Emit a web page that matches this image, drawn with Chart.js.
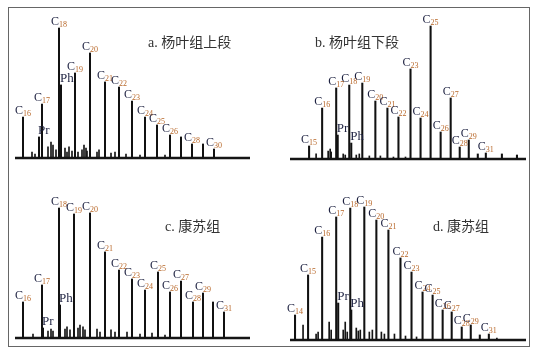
<!DOCTYPE html>
<html><head><meta charset="utf-8">
<script src="https://cdn.jsdelivr.net/npm/chart.js@4.4.1/dist/chart.umd.min.js"></script>
<style>
html,body{margin:0;padding:0;background:#fff;width:536px;height:357px;overflow:hidden;}
#frame{position:absolute;left:8px;top:7px;width:520px;height:338px;border:1.5px solid #666;}
canvas{position:absolute;}
</style></head><body>
<div id="frame"></div>
<canvas id="pa" width="268" height="175" style="left:0;top:0"></canvas>
<canvas id="pb" width="268" height="175" style="left:268px;top:0"></canvas>
<canvas id="pc" width="268" height="182" style="left:0;top:175px"></canvas>
<canvas id="pd" width="268" height="182" style="left:268px;top:175px"></canvas>
<script>
// ---------- Panel titles ----------
const panelTitles = ['a. 杨叶组上段', 'b. 杨叶组下段', 'c. 康苏组', 'd. 康苏组'];

// ---------- Panel a : n-alkanes (retention time, relative abundance %) ----------
const aLabels = ['16','17','18','19','20','21','22','23','24','25','26','','28','','30'];
const aRT     = [11.6,15.4,18.8,22.0,25.0,28.0,30.8,33.4,36.0,38.4,41.0,43.2,45.4,47.6,49.8];
const aAbund  = [31.5,41.5,100,65.4,80.8,58.5,54.6,43.8,31.5,25.4,17.7,16.2,10.8,10.8,6.9];
const aIsoNames = ['Pr','Ph'];
const aIsoRT    = [14.8,19.2];
const aIsoAbund = [16.2,56.2];
const aMinorRT    = [13.4,14.0,16.6,17.2,17.6,18.2,20.0,20.4,20.8,21.4,22.6,23.4,23.8,24.2,24.4,26.4,26.8,29.2,30.0,32.2,35.0,40.0];
const aMinorAbund = [4.6,3.1,8.5,12.3,10.0,6.2,7.7,4.6,8.5,5.4,4.6,6.2,10.0,7.7,5.4,4.6,6.2,3.8,4.6,3.1,2.3,2.3];

// ---------- Panel b ----------
const bLabels = ['15','16','17','18','19','20','21','22','23','24','25','26','27','28','29','','31','',''];
const bRT     = [13.8,16.4,19.2,21.8,24.4,27.0,29.4,31.6,34.0,36.0,38.0,40.0,42.0,43.8,45.6,47.4,49.0,52.2,55.2];
const bAbund  = [9.8,38.3,53.4,55.6,57.1,43.6,38.3,31.6,67.7,30.8,100,20.3,45.9,9.0,14.3,3.8,4.5,3.8,3.0];
const bIsoNames = ['Pr','Ph'];
const bIsoRT    = [19.5,22.2];
const bIsoAbund = [18.0,12.0];
const bMinorRT    = [15.2,17.6,18.0,18.2,20.6,21.0,23.2,23.8,25.8,28.0,30.6,33.0];
const bMinorAbund = [3.8,6.0,7.5,5.3,3.8,3.0,3.0,3.8,2.3,2.3,1.5,1.5];

// ---------- Panel c ----------
const cLabels = ['16','17','18','19','20','21','22','23','24','25','26','27','28','29','','31'];
const cRT     = [11.6,15.4,18.8,21.8,25.0,28.0,30.8,33.4,36.0,38.6,41.0,43.2,45.6,47.6,49.6,51.8];
const cAbund  = [27.7,40.8,100,95.4,96.2,66.2,52.3,45.4,36.9,50.8,35.4,43.8,27.7,34.6,27.7,20.0];
const cIsoNames = ['Pr','Ph'];
const cIsoRT    = [15.6,19.0];
const cIsoAbund = [7.7,25.4];
const cMinorRT    = [13.6,16.6,17.2,17.6,20.0,20.4,21.0,22.6,23.0,23.6,24.0,26.4,27.0,29.2,30.0,32.4,35.0,37.4,40.0];
const cMinorAbund = [3.1,5.4,6.9,5.4,6.9,8.5,6.2,7.7,10.0,8.5,6.2,6.9,4.6,6.2,4.6,4.6,3.1,3.8,2.3];

// ---------- Panel d ----------
const dLabels = ['14','15','16','17','18','19','20','21','22','23','24','25','26','27','28','29','','31'];
const dRT     = [11.0,13.6,16.4,19.2,22.0,24.8,27.2,29.6,32.0,34.2,36.4,38.4,40.4,42.2,44.2,46.0,47.8,49.6];
const dAbund  = [18.8,48.9,77.4,92.5,99.2,100,90.2,82.7,61.7,51.1,36.1,33.8,22.6,21.1,9.8,11.3,3.8,4.5];
const dIsoNames = ['Pr','Ph'];
const dIsoRT    = [19.6,22.2];
const dIsoAbund = [27.8,22.6];
const dMinorRT    = [12.6,15.2,15.6,17.8,18.2,20.6,21.0,21.4,23.2,23.6,24.0,25.8,26.4,28.2,28.8,30.8,33.0,35.2,51.2];
const dMinorAbund = [11.3,4.5,6.0,13.5,7.5,7.5,13.5,6.0,9.0,6.8,7.5,6.0,7.5,6.0,4.5,4.5,3.0,2.3,1.5];

// ---------- retention-time window ----------
const rtMin = 10, rtMax = 57;

const pts = (xs, ys) => xs.map((x, i) => ({x, y: ys[i]}));

const labelPlugin = {
  id: 'peakLabels',
  afterDatasetsDraw(chart, args, opts) {
    const ctx = chart.ctx, xs = chart.scales.x, ys = chart.scales.y;
    ctx.save();
    opts.names.forEach((n, i) => {
      if (!n) return;
      const px = xs.getPixelForValue(opts.rt[i]);
      const py = ys.getPixelForValue(opts.ab[i]);
      ctx.font = '12px "Liberation Serif", serif';
      const wC = ctx.measureText('C').width;
      ctx.font = '8px "Liberation Serif", serif';
      const wS = ctx.measureText(n).width;
      const x0 = px - (wC + wS) / 2;
      ctx.textBaseline = 'alphabetic';
      ctx.textAlign = 'left';
      ctx.fillStyle = '#1d2140';
      ctx.font = '12px "Liberation Serif", serif';
      ctx.fillText('C', x0, py - 3);
      ctx.fillStyle = '#b8682a';
      ctx.font = '8px "Liberation Serif", serif';
      ctx.fillText(n, x0 + wC, py - 1);
    });
    opts.isoNames.forEach((n, i) => {
      const px = xs.getPixelForValue(opts.isoRT[i]);
      const py = ys.getPixelForValue(opts.isoAb[i]);
      ctx.fillStyle = '#1d2140';
      ctx.font = '13px "Liberation Serif", serif';
      ctx.textAlign = 'left';
      ctx.textBaseline = 'alphabetic';
      ctx.fillText(n, px - 1, py - 3);
    });
    ctx.fillStyle = '#333';
    ctx.font = '14px "Liberation Serif", "Noto Sans CJK SC", sans-serif';
    ctx.textBaseline = 'middle';
    ctx.fillText(opts.title, opts.tx, opts.ty);
    ctx.restore();
  }
};

function makePanel(id, pad, title, tx, ty, names, rt, ab, isoNames, isoRT, isoAb, mRT, mAb) {
  new Chart(document.getElementById(id), {
    type: 'bar',
    data: {
      datasets: [
        { type: 'line', data: [{x: rtMin, y: 0}, {x: rtMax, y: 0}], borderColor: '#151515', borderWidth: 2.5, pointRadius: 0, clip: false, order: 3 },
        { data: pts(mRT, mAb), backgroundColor: '#151515', barThickness: 1, grouped: false, clip: false, order: 2 },
        { data: pts(isoRT, isoAb), backgroundColor: '#111', barThickness: 1.4, grouped: false, clip: false, order: 1 },
        { data: pts(rt, ab), backgroundColor: '#111', barThickness: 1.4, grouped: false, clip: false, order: 0 }
      ]
    },
    options: {
      responsive: false, animation: false,
      layout: { padding: pad },
      scales: {
        x: { type: 'linear', min: rtMin, max: rtMax, offset: false, display: false },
        y: { min: 0, max: 100, display: false }
      },
      plugins: {
        legend: { display: false }, tooltip: { enabled: false },
        peakLabels: { names, rt, ab, isoNames, isoRT, isoAb, title, tx, ty }
      }
    },
    plugins: [labelPlugin]
  });
}

makePanel('pa', {left: 15, right: 18, top: 28, bottom: 17}, panelTitles[0], 148, 43,
  aLabels, aRT, aAbund, aIsoNames, aIsoRT, aIsoAbund, aMinorRT, aMinorAbund);
makePanel('pb', {left: 22, right: 10, top: 26, bottom: 16}, panelTitles[1], 47, 43,
  bLabels, bRT, bAbund, bIsoNames, bIsoRT, bIsoAbund, bMinorRT, bMinorAbund);
makePanel('pc', {left: 15, right: 18, top: 33, bottom: 19}, panelTitles[2], 165, 52,
  cLabels, cRT, cAbund, cIsoNames, cIsoRT, cIsoAbund, cMinorRT, cMinorAbund);
makePanel('pd', {left: 22, right: 10, top: 32, bottom: 17}, panelTitles[3], 165, 52,
  dLabels, dRT, dAbund, dIsoNames, dIsoRT, dIsoAbund, dMinorRT, dMinorAbund);
</script>
</body></html>
